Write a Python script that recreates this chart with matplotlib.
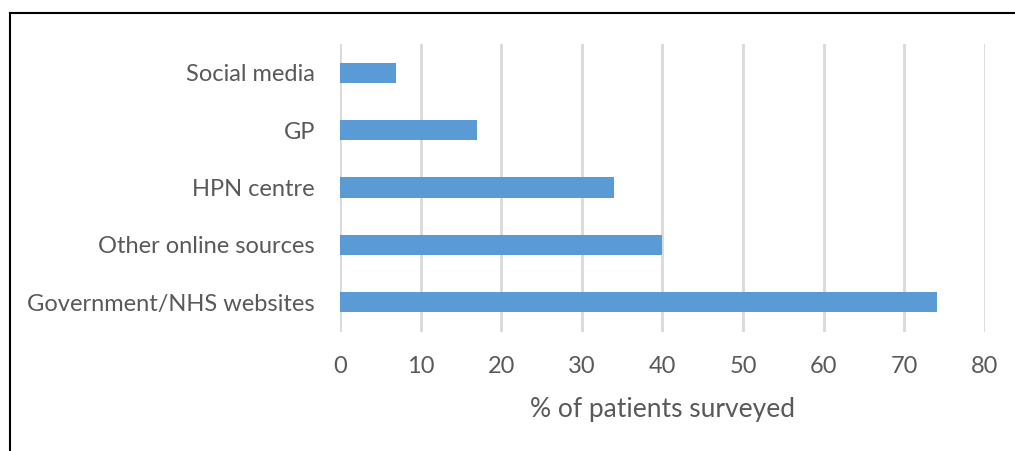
import matplotlib.pyplot as plt
from matplotlib.lines import Line2D

sources = ['Government/NHS websites', 'Other online sources', 'HPN centre', 'GP', 'Social media']
percent = [74, 40, 34, 17, 7]
xticks = [0, 10, 20, 30, 40, 50, 60, 70, 80]

plt.rcParams['font.family'] = ['Lato', 'DejaVu Sans']
grey = '#595959'

fig = plt.figure(figsize=(10.15, 4.51), dpi=100)
ax = fig.add_axes([0.335, 0.264, 0.6354, 0.638])

ax.barh(range(len(sources)), percent, height=0.35, color='#5B9BD5', zorder=3)
ax.set_yticks(range(len(sources)))
ax.set_yticklabels(sources, fontsize=17, color=grey)
ax.set_xticks(xticks)
ax.set_xticklabels([str(t) for t in xticks], fontsize=17, color=grey)
ax.set_xlim(0, 80)
ax.set_ylim(-0.52, 4.5)
ax.xaxis.grid(True, color='#D9D9D9', linewidth=2)
ax.tick_params(length=0)
ax.tick_params(axis='y', pad=18)
ax.tick_params(axis='x', pad=17)
for s in ax.spines.values():
    s.set_visible(False)
ax.set_xlabel('% of patients surveyed', fontsize=19, color=grey, labelpad=15)

# outer frame (only top and left edges are visible in the original)
fig.add_artist(Line2D([10 / 1015, 1.0], [1 - 13 / 451, 1 - 13 / 451], color='black', linewidth=1.5))
fig.add_artist(Line2D([10 / 1015, 10 / 1015], [0, 1 - 13 / 451], color='black', linewidth=1.5))

plt.savefig('out.png', dpi=100)
